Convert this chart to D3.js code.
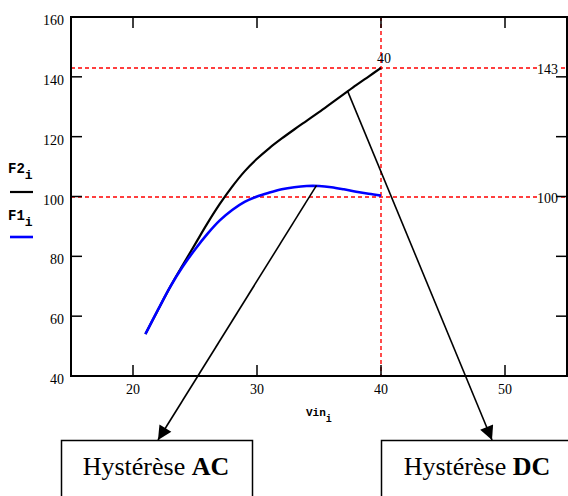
<!DOCTYPE html>
<html>
<head>
<meta charset="utf-8">
<script src="https://cdn.jsdelivr.net/npm/d3@7"></script>
<style>
    body { margin: 0; background: #fff; }
    svg { display: block; }
</style>
</head>
<body>
<svg id="chart" width="568" height="496"></svg>
<script>
// Vin_i values (x axis)
const vin = [21, 22, 23, 24, 25, 26, 27, 28, 29, 30, 31, 32, 33, 34, 35, 36, 37, 38, 39, 40];
// F1_i (blue) and F2_i (black)
const f1 = [54, 62, 69.8, 76.5, 82.3, 87.5, 92, 95.5, 98.2, 100, 101.3, 102.4, 103.1, 103.5, 103.5, 103.1, 102.4, 101.6, 100.9, 100.3];
const f2 = [54, 62, 69.8, 77, 84, 91, 97.5, 103.3, 108.4, 112.6, 116.2, 119.4, 122.4, 125.3, 128.2, 131.2, 134.2, 137.2, 140.1, 143];

const xTicks = [20, 30, 40, 50];
const yTicks = [40, 60, 80, 100, 120, 140, 160];
const markerY = [143, 100];   // red dashed horizontal markers
const markerX = [40];         // red dashed vertical marker

// annotation boxes and where their arrows start (data coords)
const boxLabels = [['Hystérèse ', 'AC'], ['Hystérèse ', 'DC']];
const arrowFrom = [[34.8, 103.7], [37.3, 135.3]];

const SERIF = '"Liberation Serif", "Times New Roman", serif';

const svg = d3.select('#chart');
const plot = { left: 71, top: 17, right: 567, bottom: 376 };

const x = d3.scaleLinear().domain([15, 55]).range([plot.left, plot.left + 40 * 12.4]);
const y = d3.scaleLinear().domain([40, 160]).range([plot.bottom, plot.top]);

// red dashed markers
const markers = svg.append('g')
    .attr('stroke', '#ff0000')
    .attr('stroke-width', 1.4)
    .attr('stroke-dasharray', '4,3');

markers.selectAll('.hmark')
    .data(markerY)
    .enter()
    .append('line')
    .attr('x1', plot.left)
    .attr('x2', plot.right)
    .attr('y1', d => Math.round(y(d)))
    .attr('y2', d => Math.round(y(d)));

markers.selectAll('.vmark')
    .data(markerX)
    .enter()
    .append('line')
    .attr('x1', d => Math.round(x(d)))
    .attr('x2', d => Math.round(x(d)))
    .attr('y1', plot.top)
    .attr('y2', plot.bottom);

const label = (sel) => sel
    .attr('font-family', SERIF)
    .attr('font-size', 14)
    .attr('fill', '#000');

// marker value labels on the right, with white backing
markerY.forEach(v => {
    const g = svg.append('g');
    g.append('rect')
        .attr('x', 537)
        .attr('y', y(v) - 6)
        .attr('width', 21)
        .attr('height', 12)
        .attr('fill', '#fff');
    g.append('text')
        .call(label)
        .attr('x', 537)
        .attr('y', y(v) + 6)
        .text(v);
});

svg.append('text')
    .call(label)
    .attr('x', x(markerX[0]) + 3)
    .attr('y', y(143) - 5)
    .attr('text-anchor', 'middle')
    .text(markerX[0]);

// curves
const line = (ys) => d3.line()
    .x((d, i) => x(vin[i]))
    .y(d => y(d))
    .curve(d3.curveCatmullRom.alpha(0.5))(ys);

svg.append('path')
    .attr('d', line(f2))
    .attr('fill', 'none')
    .attr('stroke', '#000')
    .attr('stroke-width', 2.2);

svg.append('path')
    .attr('d', line(f1))
    .attr('fill', 'none')
    .attr('stroke', '#0000ff')
    .attr('stroke-width', 2.6);

// frame
svg.append('rect')
    .attr('x', plot.left)
    .attr('y', plot.top)
    .attr('width', plot.right - plot.left)
    .attr('height', plot.bottom - plot.top)
    .attr('fill', 'none')
    .attr('stroke', '#000')
    .attr('stroke-width', 2);

// inward ticks on all four sides
const ticks = svg.append('g').attr('stroke', '#000').attr('stroke-width', 1.5);
const innerY = yTicks.filter(v => v > 40 && v < 160);
ticks.selectAll('.tl').data(innerY).enter().append('line')
    .attr('x1', plot.left).attr('x2', plot.left + 11)
    .attr('y1', d => y(d)).attr('y2', d => y(d));
ticks.selectAll('.tr').data(innerY).enter().append('line')
    .attr('x1', plot.right - 11).attr('x2', plot.right)
    .attr('y1', d => y(d)).attr('y2', d => y(d));
ticks.selectAll('.tt').data(xTicks).enter().append('line')
    .attr('x1', d => x(d)).attr('x2', d => x(d))
    .attr('y1', plot.top).attr('y2', plot.top + 11);
ticks.selectAll('.tb').data(xTicks).enter().append('line')
    .attr('x1', d => x(d)).attr('x2', d => x(d))
    .attr('y1', plot.bottom - 11).attr('y2', plot.bottom);

// tick labels
svg.selectAll('.ylab').data(yTicks).enter().append('text')
    .call(label)
    .attr('x', 64)
    .attr('y', d => y(d) + 8)
    .attr('text-anchor', 'end')
    .text(d => d);

svg.selectAll('.xlab').data(xTicks).enter().append('text')
    .call(label)
    .attr('x', d => x(d))
    .attr('y', 394)
    .attr('text-anchor', 'middle')
    .text(d => d);

// axis variable labels
const varLabel = (px, py, name, size) => {
    const t = svg.append('text')
        .attr('font-family', '"Liberation Mono", "Courier New", monospace')
        .attr('font-weight', 'bold')
        .attr('font-size', size)
        .attr('x', px).attr('y', py);
    t.append('tspan').text(name);
    t.append('tspan').attr('dy', 6).attr('font-size', size - 1).text('i');
};
varLabel(306, 416, 'Vin', 11);
varLabel(8, 173, 'F2', 14);
varLabel(8, 220, 'F1', 14);

svg.append('line').attr('x1', 10).attr('x2', 33).attr('y1', 192).attr('y2', 192)
    .attr('stroke', '#000').attr('stroke-width', 2.2);
svg.append('line').attr('x1', 10).attr('x2', 33).attr('y1', 237).attr('y2', 237)
    .attr('stroke', '#0000ff').attr('stroke-width', 2.6);

// annotation boxes
const boxes = [
    { x: 61, w: 191, tip: 158, cx: 156 },
    { x: 381, w: 200, tip: 492, cx: 477 }
];

svg.append('defs').append('marker')
    .attr('id', 'arrow')
    .attr('viewBox', '0 0 10 10')
    .attr('refX', 10).attr('refY', 5)
    .attr('markerWidth', 17).attr('markerHeight', 14)
    .attr('markerUnits', 'userSpaceOnUse')
    .attr('orient', 'auto')
    .append('path')
    .attr('d', 'M0,0 L10,5 L0,10 Z')
    .attr('fill', '#000');

boxes.forEach((b, i) => {
    svg.append('line')
        .attr('x1', x(arrowFrom[i][0]))
        .attr('y1', y(arrowFrom[i][1]))
        .attr('x2', b.tip)
        .attr('y2', 440)
        .attr('stroke', '#000')
        .attr('stroke-width', 1.6)
        .attr('marker-end', 'url(#arrow)');

    svg.append('rect')
        .attr('x', b.x + 0.5)
        .attr('y', 440.5)
        .attr('width', b.w)
        .attr('height', 60)
        .attr('fill', 'none')
        .attr('stroke', '#000')
        .attr('stroke-width', 1.5);

    const t = svg.append('text')
        .attr('font-family', SERIF)
        .attr('font-size', 26)
        .attr('x', b.cx)
        .attr('y', 475)
        .attr('text-anchor', 'middle');
    t.append('tspan').text(boxLabels[i][0]);
    t.append('tspan').attr('font-weight', 'bold').text(boxLabels[i][1]);
});
</script>
</body>
</html>
